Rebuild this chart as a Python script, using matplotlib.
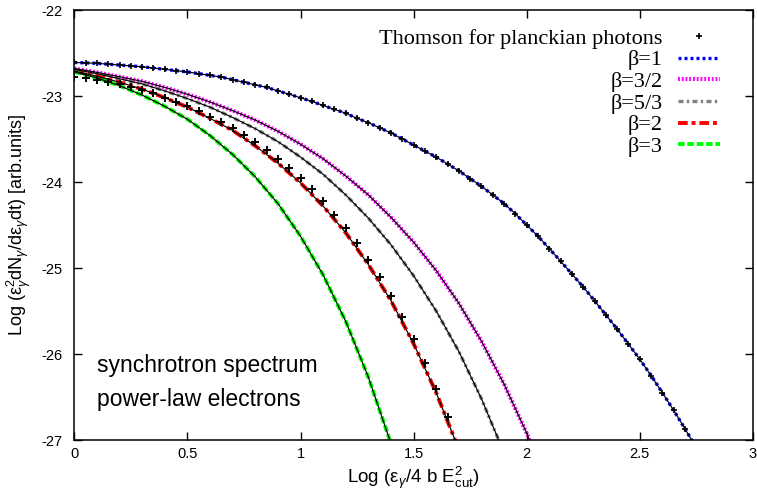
import numpy as np
import matplotlib
matplotlib.use('Agg')
import matplotlib.pyplot as plt

plt.rcParams['font.family'] = 'Liberation Sans'
plt.rcParams['mathtext.fontset'] = 'custom'
plt.rcParams['mathtext.rm'] = 'Liberation Sans'
plt.rcParams['mathtext.it'] = 'Liberation Sans:italic'
plt.rcParams['axes.unicode_minus'] = False

# x grids (log of photon energy)
x_fine = np.round(np.arange(0, 2.76, 0.05), 2)
x_b15 = np.round(np.arange(0, 2.11, 0.1), 2)
x_b53 = np.round(np.arange(0, 1.91, 0.1), 2)
x_b2 = np.round(np.arange(0, 1.71, 0.1), 2)
x_b3 = np.round(np.arange(0, 1.41, 0.1), 2)
x_th2 = np.round(np.arange(0, 1.71, 0.05), 2)

# beta = 1 (also the Thomson points for beta = 1)
y_b1 = [-22.61, -22.615, -22.62, -22.63, -22.64, -22.65, -22.66, -22.675, -22.69, -22.705,
        -22.72, -22.74, -22.76, -22.78, -22.81, -22.84, -22.87, -22.90, -22.94, -22.98,
        -23.02, -23.063, -23.11, -23.155, -23.20, -23.26, -23.31, -23.37, -23.43, -23.50,
        -23.57, -23.64, -23.71, -23.79, -23.87, -23.96, -24.05, -24.15, -24.25, -24.37,
        -24.50, -24.63, -24.775, -24.92, -25.07, -25.22, -25.38, -25.545, -25.71, -25.885,
        -26.06, -26.25, -26.45, -26.655, -26.87, -27.09]
y_b15 = [-22.68, -22.725, -22.776, -22.83, -22.90, -22.98, -23.07, -23.17, -23.28, -23.41,
         -23.56, -23.73, -23.93, -24.15, -24.41, -24.70, -25.03, -25.41, -25.85, -26.35,
         -26.92, -27.57]
y_b53 = [-22.69, -22.74, -22.80, -22.86, -22.94, -23.03, -23.13, -23.25, -23.38, -23.53,
         -23.71, -23.91, -24.15, -24.42, -24.73, -25.09, -25.50, -25.97, -26.52, -27.15]
y_b2 = [-22.71, -22.77, -22.84, -22.92, -23.02, -23.13, -23.26, -23.40, -23.58, -23.78,
        -24.01, -24.28, -24.59, -24.96, -25.38, -25.88, -26.45, -27.11]
y_b3 = [-22.72, -22.79, -22.88, -22.99, -23.12, -23.27, -23.46, -23.68, -23.94, -24.25,
        -24.63, -25.08, -25.62, -26.27, -27.04]
# Thomson points for beta = 2
y_th2 = [-22.78, -22.79, -22.815, -22.84, -22.865, -22.895, -22.93, -22.97, -23.02, -23.065,
         -23.12, -23.175, -23.24, -23.30, -23.37, -23.45, -23.54, -23.63, -23.73, -23.84,
         -23.955, -24.085, -24.225, -24.38, -24.535, -24.715, -24.905, -25.11, -25.325, -25.57,
         -25.83, -26.105, -26.41, -26.735, -27.08]

fig = plt.figure(figsize=(7.57, 4.93), dpi=100)
ax = fig.add_axes([0.0982, 0.1075, 0.8963, 0.8722])

l1, = ax.plot(x_fine, y_b1, color='#0000ff', lw=2.4, dashes=(0.9, 0.9), label='β=1')
l2, = ax.plot(x_b15, y_b15, color='#ff00ff', lw=3.0, dashes=(0.45, 0.45), label='β=3/2')
l3, = ax.plot(x_b53, y_b53, color='#808080', lw=2.4, dashes=(1.5, 1, 0.7, 1), label='β=5/3')
l4, = ax.plot(x_b2, y_b2, color='#ff0000', lw=2.8, dashes=(2.5, 1, 1, 1), label='β=2')
l5, = ax.plot(x_b3, y_b3, color='#00ff00', lw=2.8, dashes=(1.7, 0.7), label='β=3')

# thin black curves on top
for xx, yy in [(x_fine, y_b1), (x_b15, y_b15), (x_b53, y_b53), (x_b2, y_b2), (x_b3, y_b3)]:
    ax.plot(xx, yy, color='black', lw=0.85)

th, = ax.plot(x_fine, y_b1, ls='none', marker='+', ms=5, mew=1.2, color='black',
              label='Thomson for planckian photons')
ax.plot(x_th2, y_th2, ls='none', marker='+', ms=6, mew=1.4, color='black')

ax.set_xlim(0, 3)
ax.set_ylim(-27, -22)
ax.set_xticks([0, 0.5, 1, 1.5, 2, 2.5, 3])
ax.set_xticklabels(['0', '0.5', '1', '1.5', '2', '2.5', '3'])
ax.set_yticks([-27, -26, -25, -24, -23, -22])
ax.tick_params(direction='in', length=6, width=1, labelsize=10.5, top=True, right=True)
ax.tick_params(axis='x', pad=5)
ax.tick_params(axis='y', pad=8.5)
for s in ax.spines.values():
    s.set_linewidth(1.1)

ax.set_xlabel('Log (ε$_γ$/4 b E$^2_{\\rm cut}$)', fontsize=13.5, labelpad=3)
ax.set_ylabel('Log (ε$^2_γ$dN$_γ$/dε$_γ$dt) [arb.units]', fontsize=13, labelpad=6)

ax.text(0.1, -26.13, 'synchrotron spectrum', fontsize=16.5, va='center', ha='left')
ax.text(0.1, -26.53, 'power-law electrons', fontsize=16.5, va='center', ha='left')

leg = ax.legend(handles=[th, l1, l2, l3, l4, l5], loc='upper right',
                bbox_to_anchor=(0.952, 0.958), markerfirst=False, frameon=False,
                prop={'family': 'Liberation Serif', 'size': 16}, numpoints=1,
                handlelength=1.9, handletextpad=0.7, labelspacing=0.05,
                borderaxespad=0, borderpad=0)

fig.savefig('out.png', dpi=100)
